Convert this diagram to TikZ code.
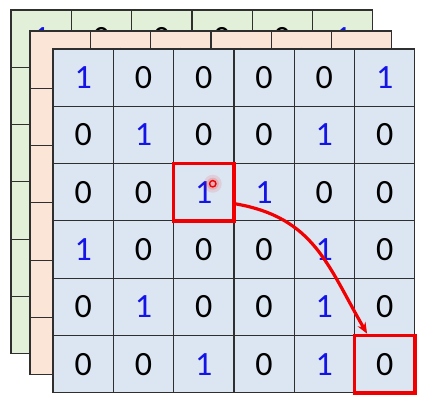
\documentclass[tikz,border=0pt]{standalone}
\usepackage{fontspec}
\setmainfont{Carlito}
\usepackage{tikz}
\usetikzlibrary{positioning, arrows.meta}
\definecolor{cellblue}{HTML}{DCE6F2}
\definecolor{cellorange}{HTML}{FBE5D6}
\definecolor{cellgreen}{HTML}{E2F0D9}
\definecolor{gridline}{HTML}{2F2F2F}
\definecolor{onecolor}{HTML}{1414E6}
\definecolor{markred}{HTML}{F00000}

\begin{document}
\begin{tikzpicture}[x=1pt, y=-1pt,
        cell/.style={draw=gridline, line width=1.2pt, minimum width=60.3pt, minimum height=57.3pt,
            inner sep=0pt, font=\fontsize{34}{34}\selectfont},
        d0/.style={text=black},
        d1/.style={text=onecolor},
        redbox/.style={draw=markred, line width=3.6pt, minimum width=60.3pt, minimum height=57.3pt, inner sep=0pt},
        arrowline/.style={draw=markred, line width=3.2pt, -{Stealth[length=11pt, width=9pt]}}]
        \useasboundingbox (0,0) rectangle (426,403);

        % One layer of the stack: #1 = name prefix, #2 = fill colour
        \def\layer#1#2{
            \foreach \row [count=\r] in {{1,0,0,0,0,1},{0,1,0,0,1,0},{0,0,1,1,0,0},
                                         {1,0,0,0,1,0},{0,1,0,0,1,0},{0,0,1,0,1,0}}
                \foreach \v [count=\c] in \row
                    \node[cell, fill=#2, d\v] (#1-\r-\c) at (53+60.3*\c-30.15, 49+57.3*\r-28.65) {\v};
        }

        % --- Back layer (green) ---
        \begin{scope}[shift={(-42,-39)}]
            \layer{g}{cellgreen}
        \end{scope}

        % --- Middle layer (orange) ---
        \begin{scope}[shift={(-23,-18)}]
            \layer{o}{cellorange}
        \end{scope}

        % --- Front layer (blue) ---
        \layer{f}{cellblue}

        % Marked cells
        \node[redbox] (hit) at (f-3-3) {};
        \node[redbox] (out) at (f-6-6) {};

        % Pointer
        \coordinate (pointer) at ([shift={(9,-8.5)}]hit.center);
        \fill[markred, opacity=0.10] (pointer) circle (9pt);
        \fill[markred, opacity=0.15] (pointer) circle (6pt);
        \draw[markred, line width=1.4pt] (pointer) circle (3.2pt);

        \draw[arrowline] (hit.-20) to[out=-10, in=120, looseness=1.1] (out.120);
    \end{tikzpicture}
\end{document}
